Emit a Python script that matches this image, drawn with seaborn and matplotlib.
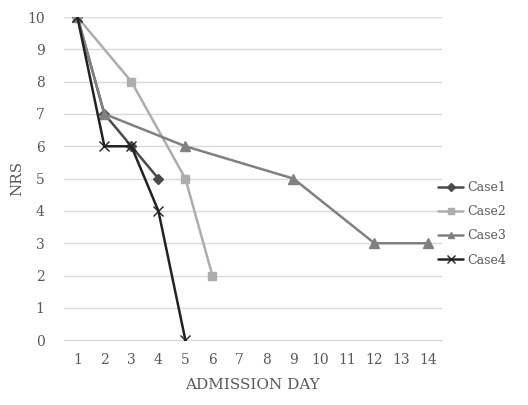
import pandas as pd
import matplotlib
matplotlib.use("Agg")
import matplotlib.pyplot as plt
import seaborn as sns

# NRS scores by admission day
case1_days = [1, 2, 3, 4]
case1_nrs = [10, 7, 6, 5]
case2_days = [1, 3, 5, 6]
case2_nrs = [10, 8, 5, 2]
case3_days = [1, 2, 5, 9, 12, 14]
case3_nrs = [10, 7, 6, 5, 3, 3]
case4_days = [1, 2, 3, 4, 5]
case4_nrs = [10, 6, 6, 4, 0]

cases = ["Case1", "Case2", "Case3", "Case4"]
colors = ["#4a4a4a", "#adadad", "#808080", "#222222"]
markers = ["D", "s", "^", "x"]
sizes = [5, 6, 6.5, 7]

rows = []
for name, days, vals in zip(cases,
                            [case1_days, case2_days, case3_days, case4_days],
                            [case1_nrs, case2_nrs, case3_nrs, case4_nrs]):
    for d, v in zip(days, vals):
        rows.append({"day": d, "nrs": v, "case": name})
df = pd.DataFrame(rows)

sns.set_style("white")
plt.rcParams["font.family"] = ["DejaVu Serif"]
text_col = "#595959"

fig = plt.figure(figsize=(5.28, 4.05), dpi=100)
ax = fig.add_axes([0.121, 0.160, 0.716, 0.798])

for name, col, mk, ms in zip(cases, colors, markers, sizes):
    sub = df[df["case"] == name]
    sns.lineplot(data=sub, x="day", y="nrs", ax=ax, color=col, marker=mk,
                 markersize=ms, markeredgecolor=col, markeredgewidth=1.0,
                 linewidth=1.8, label=name, zorder=3)

ax.set_xlim(0.5, 14.5)
ax.set_ylim(0, 10)
ax.set_xticks(range(1, 15))
ax.set_yticks(range(0, 11))
ax.tick_params(axis="both", length=0, labelsize=10, colors=text_col, pad=9)
ax.tick_params(axis="y", pad=14)
ax.grid(axis="y", color="#d9d9d9", linewidth=1)
ax.set_axisbelow(True)
for s in ["top", "right", "left"]:
    ax.spines[s].set_visible(False)
ax.spines["bottom"].set_color("#d9d9d9")
ax.set_xlabel("ADMISSION DAY", fontsize=11, color=text_col, labelpad=8)
ax.set_ylabel("NRS", fontsize=11, color=text_col, labelpad=2)

leg = ax.legend(loc="center left", bbox_to_anchor=(0.96, 0.36), frameon=False,
                fontsize=9, handlelength=2.0, handletextpad=0.3, labelspacing=0.9,
                markerscale=0.75)
for t in leg.get_texts():
    t.set_color(text_col)

fig.savefig("out.png", dpi=100)
